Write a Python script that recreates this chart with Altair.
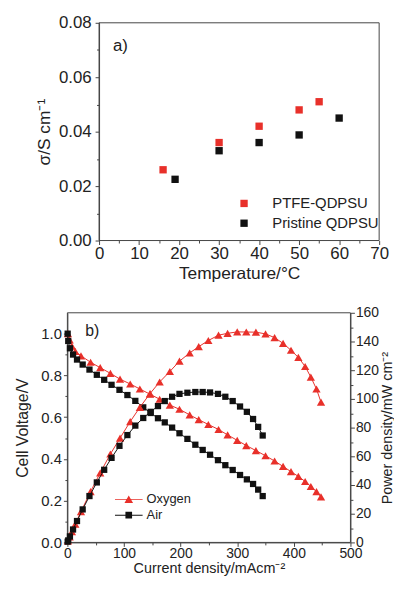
import altair as alt
import pandas as pd

# ---------------- data: panel a ----------------
series_a = ["PTFE-QDPSU", "Pristine QDPSU"]
temp_ptfe = [16, 30, 40, 50, 55]
sigma_ptfe = [0.026, 0.036, 0.042, 0.048, 0.051]
temp_pristine = [19, 30, 40, 50, 60]
sigma_pristine = [0.0225, 0.033, 0.036, 0.0388, 0.045]
xa_ticks = [0, 5, 10, 15, 20, 25, 30, 35, 40, 45, 50, 55, 60, 65, 70]
ya_ticks = [0.0, 0.01, 0.02, 0.03, 0.04, 0.05, 0.06, 0.07, 0.08]

# ---------------- data: panel b ----------------
gases_b = ["Oxygen", "Air"]
oxy_i = [1, 4, 8, 14, 24, 41, 58, 76, 93, 111, 128, 146, 163, 181, 198, 216,
         232, 249, 267, 283, 300, 316, 333, 350, 366, 381, 395, 408, 420, 430, 440, 448]
oxy_v = [1.0, 0.97, 0.94, 0.915, 0.894, 0.863, 0.837, 0.81, 0.782, 0.759, 0.735,
         0.71, 0.686, 0.658, 0.638, 0.611, 0.588, 0.565, 0.541, 0.515, 0.489, 0.464,
         0.44, 0.415, 0.39, 0.364, 0.339, 0.316, 0.292, 0.268, 0.243, 0.218]
oxy_p = [1, 3.9, 7.5, 12.8, 21.5, 35.4, 48.5, 61.6, 72.7, 84.2, 94.1, 103.7, 111.8,
         119.1, 126.3, 132, 136.4, 140.7, 144.4, 145.7, 146.7, 146.6, 146.5, 145.3,
         142.7, 138.7, 133.9, 128.9, 122.6, 115.2, 106.9, 97.7]
air_i = [0.5, 1.5, 4.5, 10, 17, 27, 39, 52, 65, 78, 92, 106, 120, 134, 147, 160,
         172, 185, 198, 212, 226, 239, 252, 266, 279, 292, 305, 317, 328, 337, 345]
air_v = [1.0, 0.965, 0.93, 0.9, 0.876, 0.852, 0.828, 0.803, 0.779, 0.755, 0.731,
         0.706, 0.678, 0.647, 0.62, 0.595, 0.575, 0.55, 0.523, 0.496, 0.468, 0.443,
         0.42, 0.394, 0.37, 0.347, 0.323, 0.302, 0.28, 0.253, 0.222]
air_p = [0.5, 1.4, 4.2, 9, 14.9, 23, 32.3, 41.8, 50.6, 58.9, 67.3, 74.8, 81.4, 86.7,
         91, 95, 98.5, 101.5, 103.5, 104.3, 104.8, 104.8, 104.5, 103.5, 101.5, 98.5,
         94.7, 91, 86, 80.5, 74.5]
xb_ticks = [0, 50, 100, 150, 200, 250, 300, 350, 400, 450, 500]
yb_ticks = [0.0, 0.1, 0.2, 0.3, 0.4, 0.5, 0.6, 0.7, 0.8, 0.9, 1.0]
pb_ticks = [0, 10, 20, 30, 40, 50, 60, 70, 80, 90, 100, 110, 120, 130, 140, 150, 160]

# ---------------- styles / layout ----------------
FONT = "Liberation Sans"
TXT = "#222222"
AXC = "#444444"
RED = "#e8302a"
BLK = "#111111"

WA, HA = 315, 220          # panel a plot (extended left so that its axis sits 32px inside)
A_SHIFT = 32
XA_MAX, YA_MAX = 70, 0.08
XA_MIN = -XA_MAX * A_SHIFT / (WA - A_SHIFT)
WB, HB = 286, 232
XB_MAX, YB_MAX, PB_MAX = 500, 1.1, 160

PATH_TRI = "M-1,-0.035H1V0.035H-1Z M0,-0.27L0.31,0.27L-0.31,0.27Z"
PATH_SQ = "M-1,-0.035H1V0.035H-1Z M-0.24,-0.24H0.24V0.24H-0.24Z"


def axis(values, major, fmt, title, lsize, tsize, **kw):
    return alt.Axis(values=values, format=fmt,
                    labelExpr=f"({major}) ? datum.label : ''",
                    tickSize={"condition": {"test": major, "value": 4}, "value": 2.5},
                    title=title, grid=False, domainColor=AXC, tickColor=AXC,
                    labelColor=TXT, titleColor=TXT, labelFont=FONT, titleFont=FONT,
                    labelFontSize=lsize, titleFontSize=tsize, titleFontWeight="normal",
                    tickWidth=1, domainWidth=1, labelOverlap=False, labelFlush=False, **kw)


# ---------------- panel a ----------------
dfa = pd.DataFrame({
    "T": temp_ptfe + temp_pristine,
    "sigma": sigma_ptfe + sigma_pristine,
    "sample": [series_a[0]] * len(temp_ptfe) + [series_a[1]] * len(temp_pristine),
})
xa_scale = alt.Scale(domain=[XA_MIN, XA_MAX], nice=False, zero=False)
ya_scale = alt.Scale(domain=[0, YA_MAX], nice=False, zero=False)
xa_axis = axis(xa_ticks, "datum.value % 10 == 0", "d", "Temperature/°C", 17, 17.5,
               domain=False, labelPadding=1, titlePadding=3, titleX=(WA + A_SHIFT) / 2,
               titleAlign="center")
ya_axis = axis(ya_ticks, "round(datum.value*100) % 2 == 0", ".2f", "σ/S cm⁻¹", 17, 17.5,
               offset=-A_SHIFT, labelPadding=4, titlePadding=5)

frame_a = alt.Chart(pd.DataFrame({"x0": [0], "x1": [XA_MAX], "y0": [0], "y1": [YA_MAX]})).mark_rect(
    fill="transparent", stroke=AXC, strokeWidth=1).encode(
    x=alt.X("x0:Q", scale=xa_scale, axis=xa_axis), x2="x1:Q",
    y=alt.Y("y0:Q", scale=ya_scale, axis=ya_axis), y2="y1:Q")

legend_a = alt.Legend(title=None, orient="none", legendX=171, legendY=175, symbolType="square",
                      symbolSize=55, symbolStrokeWidth=0, labelFont=FONT, labelFontSize=15,
                      labelColor=TXT, labelOffset=21, rowPadding=4, padding=0)
pts_a = alt.Chart(dfa).mark_point(filled=True, shape="square", size=55, opacity=1).encode(
    x=alt.X("T:Q", scale=xa_scale, axis=xa_axis),
    y=alt.Y("sigma:Q", scale=ya_scale, axis=ya_axis),
    color=alt.Color("sample:N", scale=alt.Scale(domain=series_a, range=[RED, BLK]), legend=legend_a),
)
tag_a = alt.Chart(pd.DataFrame({"t": ["a)"]})).mark_text(
    align="left", baseline="middle", font=FONT, fontSize=17, color=TXT).encode(
    text="t:N", x=alt.value(46), y=alt.value(23))

panel_a = alt.layer(frame_a, pts_a, tag_a).properties(width=WA, height=HA)

# ---------------- panel b ----------------
dfo = pd.DataFrame({"I": oxy_i, "V": oxy_v, "P": oxy_p})
dfr = pd.DataFrame({"I": air_i, "V": air_v, "P": air_p})

xb_scale = alt.Scale(domain=[0, XB_MAX], nice=False, zero=False)
yb_scale = alt.Scale(domain=[0, YB_MAX], nice=False, zero=False)
pb_scale = alt.Scale(domain=[0, PB_MAX], nice=False, zero=False)
xb_axis = axis(xb_ticks, "datum.value % 100 == 0", "d", "Current density/mAcm⁻²", 14, 14.5,
               labelPadding=0, titlePadding=1)
yb_axis = axis(yb_ticks, "round(datum.value*10) % 2 == 0", ".1f", "Cell Voltage/V", 15, 16,
               labelPadding=2, titlePadding=10)
pb_axis = axis(pb_ticks, "datum.value % 20 == 0", "d", "Power density/mW cm⁻²", 14, 14.5,
               orient="right", labelPadding=1, titlePadding=2, titleAngle=270, titleBaseline="top")

xb = alt.X("I:Q", scale=xb_scale, axis=xb_axis)
yv = alt.Y("V:Q", scale=yb_scale, axis=yb_axis)
yp = alt.Y("P:Q", scale=pb_scale, axis=pb_axis)


def curve(df, y, color, shape, size):
    line = alt.Chart(df).mark_line(color=color, strokeWidth=1).encode(x=xb, y=y)
    pts = alt.Chart(df).mark_point(filled=True, shape=shape, size=size, color=color,
                                   opacity=1).encode(x=xb, y=y)
    return [line, pts]


frame_b = alt.Chart(pd.DataFrame({"x0": [0], "x1": [XB_MAX], "y0": [0], "y1": [YB_MAX]})).mark_rect(
    fill="transparent", stroke=AXC, strokeWidth=1).encode(
    x=alt.X("x0:Q", scale=xb_scale, axis=xb_axis), x2="x1:Q",
    y=alt.Y("y0:Q", scale=yb_scale, axis=yb_axis), y2="y1:Q")

legend_b = alt.Legend(title=None, orient="none", legendX=48, legendY=181, symbolSize=784,
                      clipHeight=15, rowPadding=1, labelOffset=4, padding=0, labelFont=FONT,
                      labelFontSize=13, labelColor=TXT, symbolStrokeWidth=0)
leg_b = alt.Chart(pd.DataFrame({"gas": gases_b})).transform_filter("false").mark_point(
    filled=True, opacity=1).encode(
    color=alt.Color("gas:N", scale=alt.Scale(domain=gases_b, range=[RED, BLK]), legend=legend_b),
    shape=alt.Shape("gas:N", scale=alt.Scale(domain=gases_b, range=[PATH_TRI, PATH_SQ]), legend=legend_b),
)
tag_b = alt.Chart(pd.DataFrame({"t": ["b)"]})).mark_text(
    align="left", baseline="middle", font=FONT, fontSize=16, color=TXT).encode(
    text="t:N", x=alt.value(18), y=alt.value(18))

left_b = alt.layer(frame_b, *curve(dfo, yv, RED, "triangle-up", 70),
                   *curve(dfr, yv, BLK, "square", 40), leg_b, tag_b)
right_b = alt.layer(*curve(dfo, yp, RED, "triangle-up", 70), *curve(dfr, yp, BLK, "square", 40))
panel_b = alt.layer(left_b, right_b).resolve_scale(y="independent").properties(width=WB, height=HB)

chart = alt.vconcat(panel_a, panel_b, spacing=24).resolve_scale(
    color="independent", shape="independent"
).resolve_legend(color="independent", shape="independent").properties(
    padding={"left": 7, "top": 3, "right": 0, "bottom": 0}, background="white"
).configure_view(stroke=None)

chart.save("out.html", embed_options={"renderer": "svg", "actions": False})
